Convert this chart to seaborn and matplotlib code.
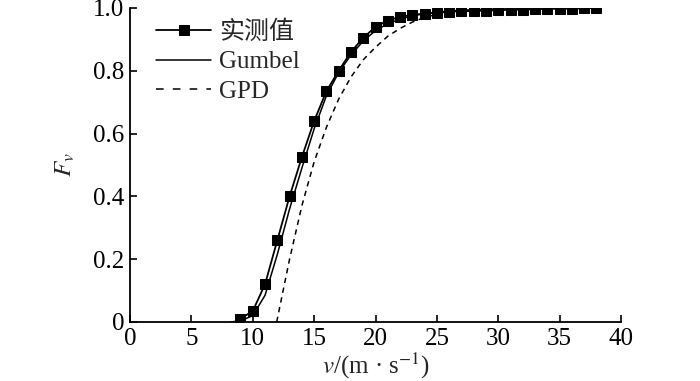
import matplotlib
matplotlib.use("Agg")
import matplotlib.pyplot as plt
import seaborn as sns

# 实测值 (measured), read at integer wind speeds
v_obs = list(range(9, 39))
f_obs = [0.01, 0.035, 0.12, 0.26, 0.40, 0.525, 0.64, 0.735, 0.80, 0.86,
         0.905, 0.94, 0.96, 0.972, 0.978, 0.982, 0.985, 0.988, 0.99, 0.99,
         0.992, 0.993, 0.994, 0.995, 0.996, 0.997, 0.998, 0.998, 0.999, 1.0]

# Gumbel fit
v_gum = [8.2, 9, 10, 11, 12, 13, 14, 15, 16, 17, 18, 19, 20, 21, 22, 23, 24, 25, 27, 30, 34, 38]
f_gum = [0.0, 0.004, 0.02, 0.085, 0.215, 0.36, 0.49, 0.615, 0.72, 0.795, 0.85,
         0.895, 0.928, 0.95, 0.965, 0.975, 0.982, 0.987, 0.993, 0.997, 0.999, 1.0]

# GPD fit
v_gpd = [11.95, 13, 14, 15, 16, 17, 18, 19, 20, 21, 22, 23, 24, 25, 26, 28, 30, 34, 38]
f_gpd = [0.0, 0.20, 0.37, 0.51, 0.62, 0.71, 0.78, 0.835, 0.875, 0.91, 0.935,
         0.955, 0.97, 0.98, 0.986, 0.993, 0.997, 0.999, 1.0]

sns.set_theme(style="ticks")
plt.rcParams["font.family"] = ["Liberation Serif", "Noto Sans CJK SC"]
plt.rcParams["mathtext.fontset"] = "stix"

fig = plt.figure(figsize=(7.0, 3.81), dpi=100)
ax = fig.add_axes([130 / 700, 1 - 322 / 381, (621 - 130) / 700, (322 - 8) / 381])

sns.lineplot(x=v_obs, y=f_obs, ax=ax, color="black", lw=1.3, marker="s",
             markersize=6.5, markeredgecolor="black", label="实测值")
sns.lineplot(x=v_gum, y=f_gum, ax=ax, color="black", lw=1.1, label="Gumbel")
sns.lineplot(x=v_gpd, y=f_gpd, ax=ax, color="black", lw=1.1, dashes=False,
             linestyle=(0, (3.5, 3)), label="GPD")

ax.set_xlim(0, 40)
ax.set_ylim(0, 1.0)
ax.set_xticks(range(0, 41, 5))
ax.set_yticks([0, 0.2, 0.4, 0.6, 0.8, 1.0])
ax.set_yticklabels(["0", "0.2", "0.4", "0.6", "0.8", "1.0"])
ax.tick_params(direction="in", length=5, width=1.2, labelsize=18, colors="black", pad=4)
for s in ["top", "right"]:
    ax.spines[s].set_visible(False)
for s in ["left", "bottom"]:
    ax.spines[s].set_linewidth(1.3)
    ax.spines[s].set_color("black")

ax.set_xlabel(r"$v$/(m · s$^{-1}$)", fontsize=18, labelpad=1)
ax.set_ylabel(r"$F_v$", fontsize=18, labelpad=12)

leg = ax.legend(loc="upper left", bbox_to_anchor=(0.018, 1.015), frameon=False, fontsize=18,
                handlelength=2.2, handletextpad=0.3, labelspacing=0.27, borderaxespad=0.3)
# legend sample of GPD shows longer dashes than the curve
leg.get_lines()[2].set_dashes((5, 6))

fig.savefig("out.png", dpi=100)
